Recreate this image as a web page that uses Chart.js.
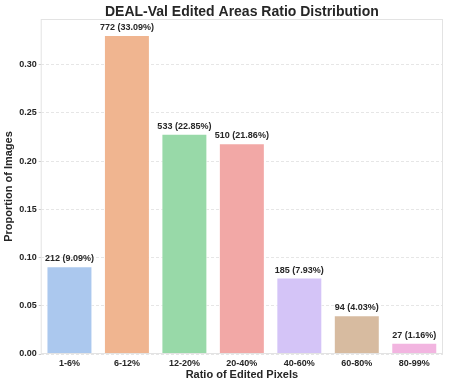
<!DOCTYPE html>
<html>
<head>
<meta charset="utf-8">
<script src="https://cdn.jsdelivr.net/npm/chart.js@4"></script>
<style>
  html, body { margin: 0; padding: 0; background: #fff; }
  #wrap { width: 449px; height: 385px; }
</style>
</head>
<body>
<div id="wrap"><canvas id="ratioChart" width="449" height="385"></canvas></div>
<script>
(function () {
    "use strict";

    var categories = ["1-6%", "6-12%", "12-20%", "20-40%", "40-60%", "60-80%", "80-99%"];
    var counts = [212, 772, 533, 510, 185, 94, 27];
    var proportions = [0.0909, 0.3309, 0.2285, 0.2186, 0.0793, 0.0403, 0.0116];
    var yTicks = [0, 0.05, 0.10, 0.15, 0.20, 0.25, 0.30];
    var barColors = ["#abc8ee", "#f0b590", "#98d9a8", "#f2a8a6", "#d4c4f7", "#d7bba0", "#f2b5e0"];
    var chartTitle = "DEAL-Val Edited Areas Ratio Distribution";

    var font = "'Liberation Sans', Arial, sans-serif";

    // title centred on the plot, labels above bars, light frame round the plot
    var extras = {
        id: "extras",
        afterDatasetsDraw: function (chart) {
            var c = chart.ctx;
            var a = chart.chartArea;
            var meta = chart.getDatasetMeta(0);
            c.save();
            c.font = "bold 9px " + font;
            c.fillStyle = "#262626";
            c.textAlign = "center";
            c.textBaseline = "bottom";
            meta.data.forEach(function (bar, i) {
                var pct = (proportions[i] * 100).toFixed(2);
                c.fillText(counts[i] + " (" + pct + "%)", bar.x, bar.y - 3);
            });
            c.strokeStyle = "#e3e3e3";
            c.lineWidth = 1;
            c.strokeRect(a.left + 0.5, a.top + 0.5, a.right - a.left - 1, a.bottom - a.top - 1);

            c.font = "bold 14px " + font;
            c.textBaseline = "middle";
            c.fillText(chartTitle, (a.left + a.right) / 2, 12);
            c.restore();
        }
    };

    var ctx = document.getElementById("ratioChart");
    new Chart(ctx, {
        type: "bar",
        data: {
            labels: categories,
            datasets: [{
                data: proportions,
                backgroundColor: barColors,
                borderColor: "#ffffff",
                borderWidth: 1,
                categoryPercentage: 1,
                barPercentage: 0.8
            }]
        },
        options: {
            responsive: false,
            animation: false,
            layout: { padding: { left: 2, right: 6, top: 19, bottom: 5 } },
            plugins: {
                legend: { display: false },
                tooltip: { enabled: false }
            },
            scales: {
                x: {
                    grid: { display: false, drawTicks: false },
                    border: { display: false },
                    ticks: {
                        color: "#262626",
                        padding: 5,
                        font: { family: font, size: 9, weight: "bold", lineHeight: 1 }
                    },
                    title: {
                        display: true,
                        text: "Ratio of Edited Pixels",
                        color: "#262626",
                        padding: { top: -4, bottom: 0 },
                        font: { family: font, size: 11, weight: "bold", lineHeight: 1 }
                    }
                },
                y: {
                    min: 0,
                    max: 0.3475,
                    afterBuildTicks: function (axis) {
                        axis.ticks = yTicks.map(function (v) { return { value: v }; });
                    },
                    grid: {
                        color: "#e6e6e6",
                        tickColor: "#cccccc",
                        tickLength: 2
                    },
                    border: { display: false, dash: [3, 2] },
                    ticks: {
                        color: "#262626",
                        padding: 2,
                        font: { family: font, size: 9, weight: "bold" },
                        callback: function (v) { return Number(v).toFixed(2); }
                    },
                    title: {
                        display: true,
                        text: "Proportion of Images",
                        color: "#262626",
                        padding: { top: 0, bottom: 2 },
                        font: { family: font, size: 11, weight: "bold" }
                    }
                }
            }
        },
        plugins: [extras]
    });
})();
</script>
</body>
</html>
